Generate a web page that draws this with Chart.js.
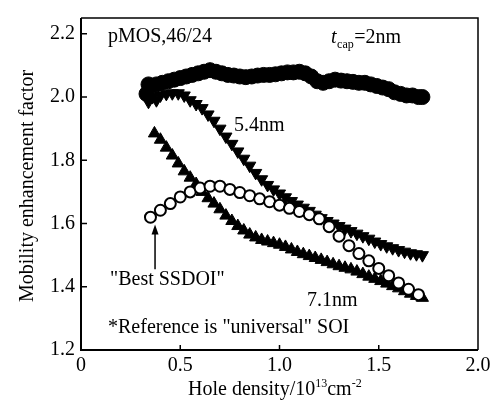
<!DOCTYPE html>
<html>
<head>
<meta charset="utf-8">
<script src="https://cdn.jsdelivr.net/npm/chart.js@4.4.0/dist/chart.umd.min.js"></script>
<style>
body { margin: 0; background: #fff; }
</style>
</head>
<body>
<canvas id="myChart" width="503" height="400"></canvas>
<script>
// axis ticks
const xTicks = [0, 0.5, 1.0, 1.5, 2.0];
const xTickText = ['0', '0.5', '1.0', '1.5', '2.0'];
const yTicks = [1.2, 1.4, 1.6, 1.8, 2.0, 2.2];
const yTickText = ['1.2', '1.4', '1.6', '1.8', '2.0', '2.2'];

// tcap = 2nm (filled circles)
const x2nm = [0.33, 0.34, 0.35, 0.38, 0.41, 0.44, 0.47, 0.50, 0.53, 0.56, 0.59, 0.62, 0.65, 0.68, 0.71, 0.74, 0.77, 0.80, 0.83, 0.86, 0.89, 0.92, 0.95, 0.98, 1.01, 1.04, 1.07, 1.10, 1.13, 1.16, 1.19, 1.22, 1.25, 1.28, 1.31, 1.34, 1.37, 1.40, 1.43, 1.46, 1.49, 1.52, 1.55, 1.58, 1.61, 1.64, 1.67, 1.70, 1.72];
const y2nm = [2.01, 2.04, 2.035, 2.04, 2.045, 2.05, 2.055, 2.06, 2.065, 2.07, 2.075, 2.08, 2.085, 2.08, 2.075, 2.07, 2.068, 2.065, 2.063, 2.065, 2.068, 2.07, 2.07, 2.072, 2.075, 2.078, 2.078, 2.08, 2.075, 2.065, 2.05, 2.045, 2.05, 2.055, 2.052, 2.05, 2.048, 2.045, 2.045, 2.04, 2.035, 2.03, 2.025, 2.015, 2.01, 2.005, 2.005, 2.0, 2.0];

// 5.4nm (down triangles)
const x54 = [0.34, 0.36, 0.38, 0.40, 0.43, 0.46, 0.49, 0.52, 0.55, 0.58, 0.61, 0.64, 0.67, 0.70, 0.73, 0.76, 0.79, 0.82, 0.85, 0.88, 0.91, 0.94, 0.97, 1.00, 1.03, 1.06, 1.09, 1.12, 1.15, 1.18, 1.21, 1.24, 1.27, 1.30, 1.33, 1.36, 1.39, 1.42, 1.45, 1.48, 1.51, 1.54, 1.57, 1.60, 1.63, 1.66, 1.69, 1.72];
const y54 = [1.985, 2.0, 1.99, 2.005, 2.01, 2.012, 2.012, 2.005, 1.99, 1.978, 1.965, 1.945, 1.925, 1.90, 1.875, 1.852, 1.828, 1.805, 1.783, 1.76, 1.74, 1.722, 1.708, 1.695, 1.683, 1.671, 1.66, 1.65, 1.64, 1.628, 1.617, 1.608, 1.6, 1.592, 1.584, 1.576, 1.568, 1.56, 1.552, 1.543, 1.535, 1.528, 1.522, 1.516, 1.511, 1.506, 1.503, 1.50];

// 7.1nm (up triangles)
const x71 = [0.37, 0.40, 0.43, 0.46, 0.49, 0.52, 0.55, 0.58, 0.61, 0.64, 0.67, 0.70, 0.73, 0.76, 0.79, 0.82, 0.85, 0.88, 0.91, 0.94, 0.97, 1.00, 1.03, 1.06, 1.09, 1.12, 1.15, 1.18, 1.21, 1.24, 1.27, 1.30, 1.33, 1.36, 1.39, 1.42, 1.45, 1.48, 1.51, 1.54, 1.57, 1.60, 1.63, 1.66, 1.69, 1.72];
const y71 = [1.885, 1.865, 1.84, 1.815, 1.79, 1.765, 1.745, 1.725, 1.70, 1.68, 1.663, 1.645, 1.625, 1.608, 1.592, 1.578, 1.565, 1.556, 1.548, 1.543, 1.538, 1.533, 1.526, 1.518, 1.51, 1.503, 1.497, 1.491, 1.485, 1.478, 1.471, 1.465, 1.46, 1.455, 1.448, 1.44, 1.432, 1.425, 1.418, 1.41, 1.402, 1.395, 1.386, 1.378, 1.371, 1.365];

// "Best SSDOI" (open circles)
const xBest = [0.35, 0.40, 0.45, 0.50, 0.55, 0.60, 0.65, 0.70, 0.75, 0.80, 0.85, 0.90, 0.95, 1.00, 1.05, 1.10, 1.15, 1.20, 1.25, 1.30, 1.35, 1.40, 1.45, 1.50, 1.55, 1.60, 1.65, 1.70];
const yBest = [1.62, 1.642, 1.663, 1.684, 1.70, 1.712, 1.718, 1.718, 1.708, 1.698, 1.688, 1.678, 1.669, 1.658, 1.648, 1.638, 1.628, 1.615, 1.59, 1.56, 1.53, 1.505, 1.482, 1.458, 1.435, 1.412, 1.392, 1.375];

function pts(xs, ys) {
    return xs.map(function (x, i) { return { x: x, y: ys[i] }; });
}

const FONT = '"Liberation Serif", "Times New Roman", serif';

function txt(ctx, s, x, y, size, style) {
    ctx.font = (style || '') + ' ' + size + 'px ' + FONT;
    ctx.fillText(s, x, y);
    return x + ctx.measureText(s).width;
}

// frame, inward ticks, labels and arrow
const decor = {
    id: 'decor',
    afterDatasetsDraw(chart) {
        const ctx = chart.ctx;
        const a = chart.chartArea;
        const xs = chart.scales.x;
        const ys = chart.scales.y;
        ctx.save();
        ctx.strokeStyle = '#000';
        ctx.fillStyle = '#000';

        ctx.lineWidth = 1.5;
        ctx.beginPath();
        ctx.moveTo(a.left, a.top);
        ctx.lineTo(a.right, a.top);
        ctx.lineTo(a.right, a.bottom);
        ctx.stroke();
        ctx.lineWidth = 2;
        ctx.beginPath();
        ctx.moveTo(a.left, a.top);
        ctx.lineTo(a.left, a.bottom);
        ctx.lineTo(a.right, a.bottom);
        ctx.stroke();

        ctx.lineWidth = 1.5;
        ctx.beginPath();
        xTicks.slice(1, -1).forEach(function (v) {
            const px = xs.getPixelForValue(v);
            ctx.moveTo(px, a.bottom);
            ctx.lineTo(px, a.bottom - 5);
        });
        yTicks.slice(1).forEach(function (v) {
            const py = ys.getPixelForValue(v);
            ctx.moveTo(a.left, py);
            ctx.lineTo(a.left + 6, py);
        });
        ctx.stroke();

        // arrow to the first SSDOI point
        const ax = xs.getPixelForValue(0.373);
        const ay0 = ys.getPixelForValue(1.455);
        const ay1 = ys.getPixelForValue(1.597);
        ctx.lineWidth = 1.5;
        ctx.beginPath();
        ctx.moveTo(ax, ay0);
        ctx.lineTo(ax, ay1 + 6);
        ctx.stroke();
        ctx.beginPath();
        ctx.moveTo(ax, ay1);
        ctx.lineTo(ax - 3.5, ay1 + 10);
        ctx.lineTo(ax + 3.5, ay1 + 10);
        ctx.closePath();
        ctx.fill();

        ctx.textAlign = 'left';
        ctx.textBaseline = 'alphabetic';
        txt(ctx, 'pMOS,46/24', 108, 42, 20);
        let p = txt(ctx, 't', 331, 43, 20, 'italic');
        p = txt(ctx, 'cap', p + 0.5, 48, 12);
        txt(ctx, '=2nm', p + 0.5, 43, 20);
        txt(ctx, '5.4nm', 234, 131, 20);
        txt(ctx, '"Best SSDOI"', 110, 285, 20);
        txt(ctx, '7.1nm', 307, 306, 20);
        txt(ctx, '*Reference is "universal" SOI', 108, 333, 20);

        // x axis title with superscripts
        p = txt(ctx, 'Hole density/10', 188, 395, 20);
        p = txt(ctx, '13', p, 387, 12);
        p = txt(ctx, 'cm', p, 395, 20);
        txt(ctx, '-2', p, 387, 12);

        // y axis title
        ctx.translate(33, 186);
        ctx.rotate(-Math.PI / 2);
        ctx.textAlign = 'center';
        txt(ctx, 'Mobility enhancement factor', 0, 0, 20);
        ctx.restore();
    }
};

Chart.defaults.color = '#000';

const ctx = document.getElementById('myChart').getContext('2d');
const chart = new Chart(ctx, {
    type: 'scatter',
    data: {
        datasets: [{
            label: 'Best SSDOI',
            data: pts(xBest, yBest),
            pointStyle: 'circle',
            pointRadius: 5.5,
            backgroundColor: '#fff',
            borderColor: '#000',
            borderWidth: 2,
            order: 0
        }, {
            label: '7.1nm',
            data: pts(x71, y71),
            pointStyle: 'triangle',
            pointRadius: 7,
            backgroundColor: '#000',
            borderColor: '#000',
            borderWidth: 1,
            order: 1
        }, {
            label: '5.4nm',
            data: pts(x54, y54),
            pointStyle: 'triangle',
            rotation: 180,
            pointRadius: 7,
            backgroundColor: '#000',
            borderColor: '#000',
            borderWidth: 1,
            order: 2
        }, {
            label: '2nm',
            data: pts(x2nm, y2nm),
            pointStyle: 'circle',
            pointRadius: 7.5,
            backgroundColor: '#000',
            borderColor: '#000',
            borderWidth: 1,
            order: 3
        }]
    },
    options: {
        responsive: false,
        animation: false,
        layout: { padding: { top: 12, right: 25, left: 0, bottom: 0 } },
        plugins: {
            legend: { display: false },
            tooltip: { enabled: false }
        },
        scales: {
            x: {
                type: 'linear',
                min: 0,
                max: 2.0,
                grid: { display: false, drawTicks: false },
                border: { display: false },
                afterBuildTicks: function (scale) {
                    scale.ticks = xTicks.map(function (v) { return { value: v }; });
                },
                afterFit: function (scale) { scale.height = 50; },
                ticks: {
                    padding: 4,
                    maxRotation: 0,
                    font: { family: FONT, size: 20 },
                    callback: function (v, i) { return xTickText[i]; }
                }
            },
            y: {
                type: 'linear',
                min: 1.2,
                max: 2.25,
                grid: { display: false, drawTicks: false },
                border: { display: false },
                afterBuildTicks: function (scale) {
                    scale.ticks = yTicks.map(function (v) { return { value: v }; });
                },
                afterFit: function (scale) { scale.width = 81; },
                ticks: {
                    padding: 6,
                    font: { family: FONT, size: 20 },
                    callback: function (v, i) { return yTickText[i]; }
                }
            }
        }
    },
    plugins: [decor]
});
</script>
</body>
</html>
